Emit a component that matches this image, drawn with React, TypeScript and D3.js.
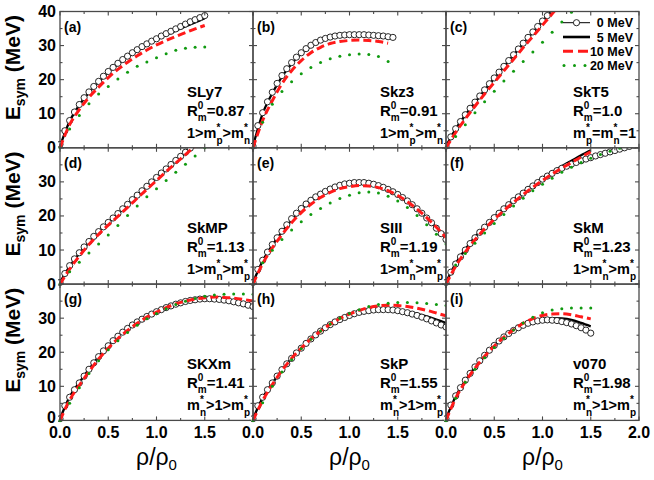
import React from "react";
import * as d3 from "d3";

// ---------- layout constants ----------
const W = 654;
const H = 480;
const LEFT = 60;
const TOP = 11.5;
const COLW = 193;
const ROWH = 136.3;

// ---------- axes data ----------
const X_DOMAIN = [0, 2];
const Y_DOMAIN = [0, 40];
const xMajor = [0, 0.5, 1, 1.5, 2];
const xMinor = [0.25, 0.75, 1.25, 1.75];
const yMajor = [0, 10, 20, 30, 40];
const yMinor = [5, 15, 25, 35];
const xTickLabels = ["0.0", "0.5", "1.0", "1.5", "2.0"];
const yTickLabels = ["0", "10", "20", "30", "40"];
const legendLabels = ["0 MeV", "5 MeV", "10 MeV", "20 MeV"];

const CIRCLE_STEP = 0.05;
const LINE_STEP = 0.1;

// ---------- panel text ----------
const panelLetters = ["(a)", "(b)", "(c)", "(d)", "(e)", "(f)", "(g)", "(h)", "(i)"];
const modelNames = ["SLy7", "Skz3", "SkT5", "SkMP", "SIII", "SkM", "SKXm", "SkP", "v070"];
const rValues = ["0.87", "0.91", "1.0", "1.13", "1.19", "1.23", "1.41", "1.55", "1.98"];
const massOrders = [
  "1>m_p>m_n", "1>m_p>m_n", "m_p=m_n=1",
  "1>m_n>m_p", "1>m_n>m_p", "1>m_n>m_p",
  "m_n>1>m_p", "m_n>1>m_p", "m_n>1>m_p",
];

// ---------- series: 0 MeV (circles, step 0.05), 5/10/20 MeV (step 0.1) ----------
const aCircles = [1.0, 5.0, 8.0, 10.5, 12.7, 14.7, 16.4, 18.0, 19.5, 21.0, 22.4, 23.6, 24.8, 25.9, 26.9, 27.9, 28.8, 29.7, 30.5, 31.3, 32.0, 32.8, 33.5, 34.2, 34.9, 35.6, 36.3, 37.0, 37.6, 38.2, 38.8];
const aBlack = [0.5, 7.8, 12.5, 16.2, 19.3, 22.1, 24.5, 26.6, 28.5, 30.2, 31.7, 33.1, 34.4, 35.6, 36.8, 38.0];
const aRed = [0, 6.8, 11.2, 14.8, 17.8, 20.6, 23.0, 25.1, 27.0, 28.7, 30.2, 31.5, 32.7, 33.8, 34.9, 35.9];
const aGreen = [0, 5.5, 9.5, 12.9, 15.8, 18.0, 20.2, 22.2, 23.9, 25.2, 26.4, 27.6, 28.6, 29.2, 29.5, 29.6];

const bCircles = [0.5, 6.5, 10.3, 13.5, 16.3, 18.9, 21.2, 23.2, 25.0, 26.6, 27.9, 29.1, 30.1, 30.9, 31.6, 32.1, 32.5, 32.8, 33.0, 33.1, 33.2, 33.2, 33.2, 33.2, 33.1, 33.0, 32.9, 32.8, 32.6, 32.4];
const bBlack = [0.5, 10.0, 16.0, 20.9, 24.7, 27.6, 29.8, 31.3, 32.2, 32.7, 32.9, 32.9, 32.8, 32.6, 32.3];
const bRed = [0, 8.0, 13.8, 18.8, 22.6, 25.6, 27.9, 29.5, 30.6, 31.2, 31.5, 31.6, 31.5, 31.2, 30.7];
const bGreen = [0, 7.5, 12.8, 16.5, 19.4, 21.7, 23.6, 25.0, 26.1, 26.9, 27.3, 27.5, 27.4, 26.8, 25.3];

const cCircles = [0.5, 3.2, 5.6, 7.7, 9.7, 11.6, 13.4, 15.2, 17.0, 18.8, 20.5, 22.2, 23.9, 25.6, 27.3, 29.0, 30.7, 32.4, 34.0, 35.6, 37.2, 38.8, 40.4, 42.0, 43.6, 45.2, 46.8, 48.4, 50.0, 51.6, 53.2];
const cBlack = [0.5, 5.5, 9.6, 13.3, 16.9, 20.4, 23.8, 27.2, 30.6, 33.9, 37.1, 40.3, 43.5, 46.7, 49.9, 53.0];
const cRed = [0, 4.5, 8.5, 12.2, 15.8, 19.2, 22.6, 26.0, 29.4, 32.7, 36.0, 39.3, 42.6, 45.9, 49.2, 52.5];
const cGreen = [0, 3.3, 6.8, 10.3, 13.5, 16.6, 19.6, 22.5, 25.3, 28.1, 31.0, 33.9, 36.9, 39.8, 42.7, 45.6];

const dCircles = [0.5, 3.1, 5.4, 7.4, 9.2, 10.9, 12.5, 14.0, 15.4, 16.8, 18.1, 19.4, 20.7, 22.1, 23.4, 24.8, 26.1, 27.4, 28.7, 30.0, 31.3, 32.6, 33.8, 35.1, 36.3, 37.5, 38.7, 39.9, 41.1, 42.3, 43.5];
const dBlack = [0.5, 5.2, 9.0, 12.3, 15.3, 18.0, 20.6, 23.3, 26.0, 28.6, 31.2, 33.7, 36.2, 38.6, 41.0, 43.4];
const dRed = [0, 4.4, 8.2, 11.6, 14.6, 17.3, 19.9, 22.5, 25.2, 27.8, 30.4, 33.0, 35.5, 38.0, 40.5, 43.0];
const dGreen = [0, 3.6, 6.4, 9.1, 11.8, 14.4, 17.2, 20.1, 22.9, 25.6, 28.0, 30.4, 32.8, 35.2, 37.6, 40.0];

const eCircles = [0.5, 4.3, 7.0, 9.4, 11.6, 13.6, 15.5, 17.4, 19.2, 20.8, 22.2, 23.5, 24.6, 25.6, 26.4, 27.2, 27.9, 28.5, 29.0, 29.4, 29.6, 29.8, 29.8, 29.8, 29.6, 29.3, 28.9, 28.4, 27.8, 27.1, 26.3, 25.4, 24.4, 23.3, 22.1, 20.8, 19.4, 18.0, 16.4, 14.8, 13.1];
const eBlack = [0.5, 6.8, 11.4, 15.3, 18.7, 21.9, 24.3, 26.2, 27.7, 28.8, 29.4, 29.6, 29.4, 28.8, 27.7, 26.2, 24.3, 22.0, 19.4, 16.5, 13.5];
const eRed = [0, 6.0, 10.6, 14.5, 18.0, 21.0, 23.4, 25.4, 26.9, 28.0, 28.6, 28.9, 28.8, 28.3, 27.4, 26.0, 24.2, 22.0, 19.5, 16.7, 13.7];
const eGreen = [0, 6.3, 9.9, 13.1, 15.9, 18.3, 20.4, 22.2, 23.8, 25.1, 26.1, 26.8, 27.0, 26.7, 25.8, 24.4, 22.5, 20.1, 17.4, 14.6, 11.8];

const fCircles = [0.5, 3.5, 5.9, 8.0, 10.0, 11.9, 13.6, 15.2, 16.7, 18.1, 19.5, 20.8, 22.1, 23.3, 24.5, 25.6, 26.7, 27.8, 28.8, 29.8, 30.8, 31.7, 32.5, 33.3, 34.0, 34.6, 35.2, 35.7, 36.2, 36.7, 37.1, 37.6, 38.0, 38.4, 38.8, 39.2, 39.6, 40.0, 40.4, 40.8, 41.2];
const fBlack = [0.5, 6.0, 10.2, 13.8, 16.9, 19.7, 22.3, 24.7, 27.0, 29.1, 31.1, 32.9, 34.6, 36.2, 37.8, 39.3];
const fRed = [0, 5.2, 9.4, 13.0, 16.2, 19.0, 21.6, 24.0, 26.3, 28.4, 30.4, 32.3, 34.0, 35.7, 37.3, 38.8];
const fGreen = [0, 5.6, 9.0, 12.0, 15.0, 17.8, 20.4, 22.9, 25.2, 27.4, 29.3, 31.1, 32.8, 34.3, 35.7, 36.9, 38.0, 39.0, 39.9, 40.7, 41.4];

const gCircles = [0.5, 4.3, 6.8, 9.0, 11.0, 13.0, 15.0, 16.9, 18.7, 20.4, 21.9, 23.4, 24.7, 25.9, 27.0, 28.0, 28.9, 29.7, 30.5, 31.2, 31.9, 32.5, 33.1, 33.6, 34.1, 34.5, 34.9, 35.2, 35.4, 35.6, 35.7, 35.7, 35.6, 35.5, 35.3, 35.1, 34.8, 34.5, 34.2, 33.8, 33.4];
const gBlack = [0.5, 6.9, 11.1, 15.0, 18.7, 21.9, 24.7, 27.0, 28.9, 30.5, 31.9, 33.1, 34.1, 34.9, 35.4, 35.7, 35.7, 35.4, 34.9, 34.3, 33.5];
const gRed = [0, 6.0, 10.3, 14.3, 18.0, 21.2, 24.0, 26.4, 28.5, 30.3, 31.8, 33.1, 34.2, 35.0, 35.6, 36.0, 36.2, 36.1, 35.9, 35.5, 35.0];
const gGreen = [0, 5.0, 9.6, 13.8, 17.5, 20.7, 23.4, 25.8, 27.9, 29.8, 31.4, 32.8, 34.0, 35.0, 35.8, 36.4, 36.8, 37.0, 37.1, 37.1, 37.0];

const hCircles = [0.5, 4.3, 6.8, 9.0, 11.0, 13.0, 14.9, 16.6, 18.2, 19.8, 21.2, 22.6, 23.9, 25.1, 26.2, 27.2, 28.1, 28.9, 29.6, 30.2, 30.8, 31.3, 31.7, 32.0, 32.2, 32.4, 32.5, 32.5, 32.5, 32.4, 32.2, 31.9, 31.6, 31.2, 30.8, 30.3, 29.8, 29.2, 28.6, 28.0, 27.4];
const hBlack = [0.5, 6.6, 10.9, 14.8, 18.2, 21.2, 23.9, 26.2, 28.1, 29.6, 30.8, 31.7, 32.3, 32.6, 32.6, 32.4, 31.9, 31.3, 30.5, 29.6, 28.6];
const hRed = [0, 5.8, 10.5, 14.6, 18.2, 21.2, 23.9, 26.2, 28.2, 29.9, 31.2, 32.3, 33.1, 33.6, 33.8, 33.7, 33.4, 32.9, 32.3, 31.5, 30.7];
const hGreen = [0, 5.2, 10.0, 14.2, 17.8, 21.0, 23.8, 26.2, 28.3, 30.0, 31.4, 32.5, 33.4, 34.0, 34.4, 34.6, 34.6, 34.5, 34.3, 34.0, 33.7];

const iCircles = [0.5, 4.5, 7.2, 9.6, 11.8, 13.8, 15.7, 17.5, 19.1, 20.6, 22.0, 23.3, 24.5, 25.5, 26.4, 27.2, 27.9, 28.5, 28.9, 29.2, 29.4, 29.5, 29.4, 29.3, 29.0, 28.7, 28.3, 27.8, 27.2, 26.5, 25.6];
const iBlack = [0.5, 7.0, 11.7, 15.6, 19.0, 21.9, 24.4, 26.4, 28.0, 29.1, 29.8, 30.0, 29.9, 29.5, 28.6, 27.6];
const iRed = [0, 6.5, 11.3, 15.3, 18.8, 21.8, 24.4, 26.6, 28.5, 29.9, 30.8, 31.2, 31.3, 31.0, 30.4, 29.8];
const iGreen = [0, 6.5, 11.2, 15.0, 18.4, 21.4, 24.1, 26.5, 28.6, 30.3, 31.6, 32.4, 32.8, 33.0, 33.0, 33.0];

const circleSeries = [aCircles, bCircles, cCircles, dCircles, eCircles, fCircles, gCircles, hCircles, iCircles];
const blackSeries = [aBlack, bBlack, cBlack, dBlack, eBlack, fBlack, gBlack, hBlack, iBlack];
const redSeries = [aRed, bRed, cRed, dRed, eRed, fRed, gRed, hRed, iRed];
const greenSeries = [aGreen, bGreen, cGreen, dGreen, eGreen, fGreen, gGreen, hGreen, iGreen];

// ---------- styles ----------
const FONT = "'Liberation Sans', Arial, Helvetica, sans-serif";
const FRAME = "#4a4a4a";
const RED = "#ff1a1a";
const GREEN = "#109a10";

const xScale = d3.scaleLinear().domain(X_DOMAIN).range([0, COLW]);
const yScale = d3.scaleLinear().domain(Y_DOMAIN).range([ROWH, 0]);

const lineGen = (step: number) =>
  d3
    .line<number>()
    .x((_d, i) => xScale(i * step))
    .y((d) => yScale(d))
    .curve(d3.curveMonotoneX);

function MassText({ x, y, spec }: { x: number; y: number; spec: string }) {
  const parts = spec.split(/_(\w)/);
  const nodes: React.ReactNode[] = [];
  let offset = 0;
  parts.forEach((p, i) => {
    if (i % 2 === 0) {
      if (p.length) {
        nodes.push(
          <tspan key={i} dy={-offset} fontSize={14.5}>
            {p}
          </tspan>
        );
        offset = 0;
      }
    } else {
      nodes.push(
        <tspan key={i + "s"} dy={-7 - offset} fontSize={10}>
          *
        </tspan>
      );
      nodes.push(
        <tspan key={i + "b"} dx={-3.9} dy={13} fontSize={10}>
          {p}
        </tspan>
      );
      offset = 6;
    }
  });
  return (
    <text x={x} y={y} fontFamily={FONT} fontWeight="bold" fill="#000">
      {nodes}
    </text>
  );
}

function Legend() {
  const x1 = 117;
  const x2 = 144;
  const tx = 187;
  const ys = [11.2, 25.5, 39.8, 54.1];
  return (
    <g>
      <line x1={x1} x2={x2} y1={ys[0]} y2={ys[0]} stroke="#000" strokeWidth={1} />
      <circle cx={(x1 + x2) / 2} cy={ys[0]} r={3.1} fill="#fff" stroke="#111" strokeWidth={0.9} />
      <line x1={x1} x2={x2} y1={ys[1]} y2={ys[1]} stroke="#000" strokeWidth={2.6} />
      <line x1={x1} x2={x2} y1={ys[2]} y2={ys[2]} stroke={RED} strokeWidth={3} strokeDasharray="10,5" />
      {[0, 1, 2].map((k) => (
        <circle key={k} cx={x1 + 1 + k * 10.5} cy={ys[3]} r={1.5} fill={GREEN} />
      ))}
      {legendLabels.map((l, k) => (
        <text key={l} x={tx} y={ys[k] + 4.5} textAnchor="end" fontFamily={FONT} fontWeight="bold" fontSize={12.5}>
          {l}
        </text>
      ))}
    </g>
  );
}

function Panel({ idx }: { idx: number }) {
  const col = idx % 3;
  const row = Math.floor(idx / 3);
  const ox = LEFT + col * COLW;
  const oy = TOP + row * ROWH;
  const clipId = `clip-${idx}`;
  const lineB = lineGen(LINE_STEP);
  const tickLen = 4;
  const minorLen = 2.5;
  return (
    <g transform={`translate(${ox},${oy})`}>
      <defs>
        <clipPath id={clipId}>
          <rect x={-2} y={0} width={COLW + 2} height={ROWH + 2} />
        </clipPath>
      </defs>
      <g clipPath={`url(#${clipId})`}>
        <path d={lineB(blackSeries[idx]) || ""} fill="none" stroke="#000" strokeWidth={2.3} />
        {circleSeries[idx].map((v, i) => (
          <circle key={i} cx={xScale(i * CIRCLE_STEP)} cy={yScale(v)} r={3.1} fill="#fff" stroke="#111" strokeWidth={0.9} />
        ))}
        <path d={lineB(redSeries[idx]) || ""} fill="none" stroke={RED} strokeWidth={3} strokeDasharray="8,4" />
        {greenSeries[idx].map((v, i) => (
          <circle key={"g" + i} cx={xScale(i * LINE_STEP)} cy={yScale(v)} r={1.5} fill={GREEN} />
        ))}
      </g>
      <rect x={0} y={0} width={COLW} height={ROWH} fill="none" stroke={FRAME} strokeWidth={1.3} />
      {xMajor.map((t) => (
        <g key={"xm" + t}>
          <line x1={xScale(t)} x2={xScale(t)} y1={ROWH} y2={ROWH - tickLen} stroke={FRAME} strokeWidth={1.1} />
          <line x1={xScale(t)} x2={xScale(t)} y1={0} y2={tickLen} stroke={FRAME} strokeWidth={1.1} />
        </g>
      ))}
      {xMinor.map((t) => (
        <g key={"xn" + t}>
          <line x1={xScale(t)} x2={xScale(t)} y1={ROWH} y2={ROWH - minorLen} stroke={FRAME} strokeWidth={1.1} />
          <line x1={xScale(t)} x2={xScale(t)} y1={0} y2={minorLen} stroke={FRAME} strokeWidth={1.1} />
        </g>
      ))}
      {yMajor.map((t) => (
        <g key={"ym" + t}>
          <line x1={0} x2={tickLen} y1={yScale(t)} y2={yScale(t)} stroke={FRAME} strokeWidth={1.1} />
          <line x1={COLW} x2={COLW - tickLen} y1={yScale(t)} y2={yScale(t)} stroke={FRAME} strokeWidth={1.1} />
        </g>
      ))}
      {yMinor.map((t) => (
        <g key={"yn" + t}>
          <line x1={0} x2={minorLen} y1={yScale(t)} y2={yScale(t)} stroke={FRAME} strokeWidth={1.1} />
          <line x1={COLW} x2={COLW - minorLen} y1={yScale(t)} y2={yScale(t)} stroke={FRAME} strokeWidth={1.1} />
        </g>
      ))}
      <text x={4} y={20} fontFamily={FONT} fontWeight="bold" fontSize={14}>
        {panelLetters[idx]}
      </text>
      <text x={127} y={85} fontFamily={FONT} fontWeight="bold" fontSize={15}>
        {modelNames[idx]}
      </text>
      <text x={127} y={104} fontFamily={FONT} fontWeight="bold" fontSize={15}>
        <tspan>R</tspan>
        <tspan dy={-7} fontSize={10}>0</tspan>
        <tspan dx={-5.56} dy={12} fontSize={10}>m</tspan>
        <tspan dy={-5}>{"=" + rValues[idx]}</tspan>
      </text>
      <MassText x={127} y={126} spec={massOrders[idx]} />
      {idx === 2 && <Legend />}
    </g>
  );
}

export default function App() {
  const rows = [0, 1, 2];
  const cols = [0, 1, 2];
  return (
    <svg width={W} height={H} style={{ display: "block", position: "absolute", left: 0, top: 0 }} viewBox={`0 0 ${W} ${H}`}>
      <rect width={W} height={H} fill="#fff" />
      {d3.range(9).map((i) => (
        <Panel key={i} idx={i} />
      ))}
      {rows.map((r) =>
        yMajor
          .filter((t) => r === 0 || t < 40)
          .map((t) => (
            <text
              key={`yl${r}-${t}`}
              x={56}
              y={TOP + r * ROWH + yScale(t) + (r === 2 && t === 0 ? 3 : 5.5)}
              textAnchor="end"
              fontFamily={FONT}
              fontWeight="bold"
              fontSize={16}
            >
              {yTickLabels[yMajor.indexOf(t)]}
            </text>
          ))
      )}
      {cols.map((c) =>
        xMajor
          .filter((t) => c === 2 || t < 2)
          .map((t) => (
            <text
              key={`xl${c}-${t}`}
              x={LEFT + c * COLW + xScale(t)}
              y={TOP + 3 * ROWH + 17.5}
              textAnchor="middle"
              fontFamily={FONT}
              fontWeight="bold"
              fontSize={16}
            >
              {xTickLabels[xMajor.indexOf(t)]}
            </text>
          ))
      )}
      {rows.map((r) => {
        const cy = TOP + r * ROWH + ROWH / 2 - 12;
        return (
          <text
            key={"yt" + r}
            transform={`translate(20,${cy}) rotate(-90)`}
            textAnchor="middle"
            fontFamily={FONT}
            fontWeight="bold"
            fontSize={21}
          >
            <tspan>E</tspan>
            <tspan dy={5} fontSize={14}>sym</tspan>
            <tspan dy={-5}> (MeV)</tspan>
          </text>
        );
      })}
      {cols.map((c) => (
        <text
          key={"xt" + c}
          x={LEFT + c * COLW + COLW / 2}
          y={465}
          textAnchor="middle"
          fontFamily={FONT}
          fontSize={23}
        >
          <tspan>ρ/ρ</tspan>
          <tspan dy={5} fontSize={15}>0</tspan>
        </text>
      ))}
    </svg>
  );
}
